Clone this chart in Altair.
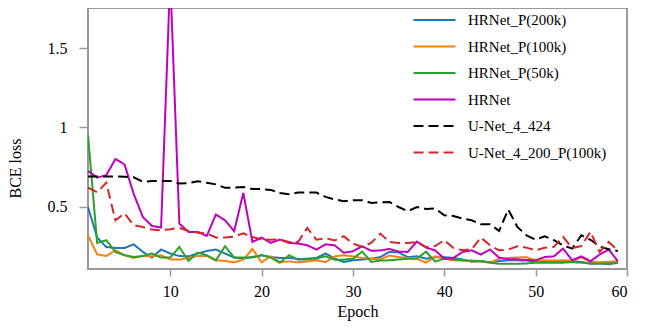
import altair as alt
import pandas as pd

epochs = list(range(1, 60))

hrnet_p200 = [0.497, 0.304, 0.244, 0.238, 0.238, 0.261, 0.213, 0.177, 0.228, 0.203,
              0.187, 0.185, 0.203, 0.219, 0.228, 0.203, 0.177, 0.171, 0.181, 0.192,
              0.181, 0.175, 0.175, 0.168, 0.170, 0.175, 0.203, 0.171, 0.149, 0.160,
              0.165, 0.170, 0.180, 0.213, 0.210, 0.180, 0.185, 0.170, 0.180, 0.180,
              0.175, 0.165, 0.150, 0.155, 0.148, 0.155, 0.160, 0.160, 0.158, 0.152,
              0.155, 0.155, 0.152, 0.155, 0.150, 0.138, 0.140, 0.135, 0.145]
hrnet_p100 = [0.318, 0.198, 0.187, 0.223, 0.192, 0.175, 0.187, 0.185, 0.192, 0.166,
              0.164, 0.175, 0.187, 0.187, 0.160, 0.156, 0.147, 0.164, 0.232, 0.147,
              0.185, 0.149, 0.153, 0.147, 0.153, 0.160, 0.149, 0.185, 0.192, 0.185,
              0.175, 0.170, 0.165, 0.190, 0.180, 0.175, 0.170, 0.145, 0.185, 0.170,
              0.160, 0.158, 0.155, 0.152, 0.145, 0.170, 0.175, 0.178, 0.180, 0.158,
              0.160, 0.158, 0.160, 0.158, 0.178, 0.150, 0.148, 0.150, 0.155]
hrnet_p50 = [0.951, 0.270, 0.287, 0.213, 0.192, 0.181, 0.187, 0.203, 0.177, 0.177,
             0.244, 0.156, 0.209, 0.192, 0.160, 0.249, 0.177, 0.177, 0.177, 0.192,
             0.177, 0.145, 0.192, 0.164, 0.166, 0.171, 0.185, 0.164, 0.164, 0.170,
             0.215, 0.150, 0.158, 0.160, 0.165, 0.170, 0.170, 0.215, 0.152, 0.170,
             0.165, 0.160, 0.158, 0.155, 0.145, 0.138, 0.138, 0.138, 0.140, 0.145,
             0.145, 0.145, 0.145, 0.148, 0.145, 0.140, 0.140, 0.140, 0.145]
hrnet = [0.725, 0.683, 0.698, 0.800, 0.766, 0.580, 0.434, 0.377, 0.367, 1.950,
         0.392, 0.339, 0.339, 0.314, 0.449, 0.413, 0.344, 0.586, 0.276, 0.304,
         0.270, 0.291, 0.270, 0.266, 0.255, 0.228, 0.261, 0.255, 0.208, 0.217,
         0.249, 0.220, 0.222, 0.232, 0.215, 0.213, 0.278, 0.240, 0.223, 0.171,
         0.175, 0.213, 0.223, 0.196, 0.228, 0.177, 0.166, 0.166, 0.162, 0.160,
         0.181, 0.185, 0.234, 0.160, 0.185, 0.154, 0.196, 0.228, 0.154]
unet_424 = [0.690, 0.690, 0.690, 0.690, 0.688, 0.685, 0.656, 0.662, 0.662, 0.662,
            0.645, 0.648, 0.660, 0.650, 0.640, 0.618, 0.620, 0.624, 0.610, 0.610,
            0.605, 0.586, 0.578, 0.588, 0.588, 0.588, 0.561, 0.545, 0.534, 0.540,
            0.540, 0.523, 0.527, 0.529, 0.497, 0.470, 0.497, 0.485, 0.488, 0.445,
            0.440, 0.424, 0.413, 0.388, 0.388, 0.346, 0.481, 0.371, 0.318, 0.291,
            0.312, 0.287, 0.255, 0.234, 0.318, 0.290, 0.247, 0.230, 0.219]
unet_200_p100 = [0.620, 0.590, 0.650, 0.413, 0.456, 0.382, 0.370, 0.354, 0.350, 0.356,
                 0.365, 0.345, 0.335, 0.330, 0.304, 0.304, 0.310, 0.330, 0.307, 0.293,
                 0.290, 0.292, 0.276, 0.275, 0.365, 0.290, 0.300, 0.285, 0.312, 0.266,
                 0.245, 0.270, 0.329, 0.276, 0.270, 0.270, 0.276, 0.244, 0.250, 0.287,
                 0.238, 0.223, 0.230, 0.304, 0.255, 0.223, 0.228, 0.249, 0.240, 0.223,
                 0.240, 0.245, 0.308, 0.237, 0.250, 0.340, 0.213, 0.276, 0.223]

series_names = ["HRNet_P(200k)", "HRNet_P(100k)", "HRNet_P(50k)", "HRNet",
                "U-Net_4_424", "U-Net_4_200_P(100k)"]
series_values = [hrnet_p200, hrnet_p100, hrnet_p50, hrnet, unet_424, unet_200_p100]
colors = ["#1f77b4", "#ff7f0e", "#2ca02c", "#bf00bf", "#000000", "#d62728"]
dashes = [[1, 0], [1, 0], [1, 0], [1, 0], [10, 5], [10, 5]]

x_ticks = [10, 20, 30, 40, 50, 60]
y_ticks = [0.5, 1, 1.5]

rows = []
for name, vals in zip(series_names, series_values):
    for e, v in zip(epochs, vals):
        rows.append({"Epoch": e, "loss": v, "series": name})
df = pd.DataFrame(rows)

FONT = "Liberation Serif"

chart = alt.Chart(df).mark_line(strokeWidth=2, clip=True).encode(
    x=alt.X("Epoch:Q", scale=alt.Scale(domain=[1, 60], nice=False, zero=False),
            axis=alt.Axis(values=x_ticks, format="d", title="Epoch", grid=False,
                          tickSize=7, labelPadding=7, titlePadding=4)),
    y=alt.Y("loss:Q", scale=alt.Scale(domain=[0.105, 1.755], nice=False, zero=False),
            axis=alt.Axis(values=y_ticks, format=".1~f", title="BCE loss", grid=False,
                          tickSize=9, labelPadding=12, titleX=-73, titleY=160,
                          titleAngle=-90, titleBaseline="middle", titleAlign="center")),
    color=alt.Color("series:N", sort=series_names,
                    scale=alt.Scale(domain=series_names, range=colors),
                    legend=alt.Legend(title=None, orient="none", legendX=338, legendY=3.5,
                                      padding=0,
                                      symbolType="M-2.8,0H2.8", symbolSize=225,
                                      symbolStrokeWidth=2, labelOffset=25,
                                      rowPadding=9.5, labelFontSize=15, labelFont=FONT,
                                      labelLimit=300)),
    strokeDash=alt.StrokeDash("series:N", sort=series_names,
                              scale=alt.Scale(domain=series_names, range=dashes),
                              legend=None),
    order=alt.Order("Epoch:Q"),
).properties(
    width=539, height=261,
    autosize=alt.AutoSizeParams(type="none"),
    padding={"left": 80, "top": 0, "right": 12, "bottom": 52},
).configure_view(
    stroke="#999999", strokeWidth=2
).configure_axis(
    domain=False, tickColor="#999999", tickWidth=1.5,
    labelFont=FONT, titleFont=FONT, labelFontSize=16, titleFontSize=16,
    labelColor="#000000", titleColor="#000000", titleFontWeight="normal",
)

chart.save("out.html", embed_options={"renderer": "svg", "actions": False})
